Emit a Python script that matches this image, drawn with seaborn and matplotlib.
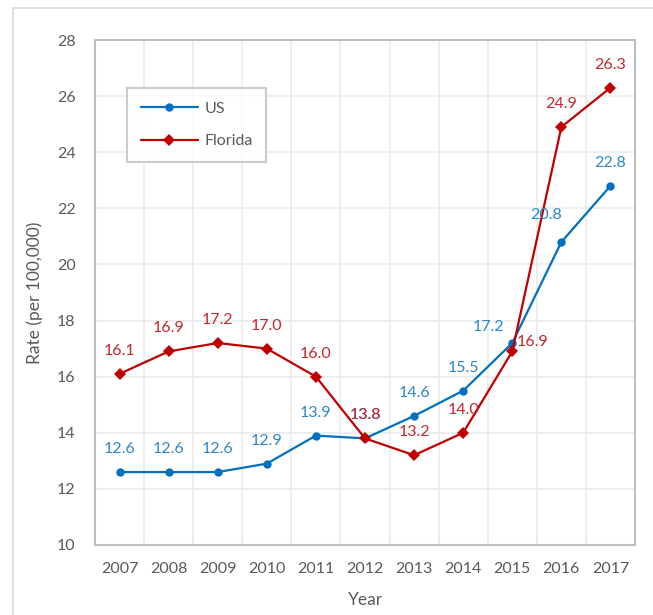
import matplotlib
matplotlib.use("Agg")
import matplotlib.pyplot as plt
import matplotlib.patches as mpatches
import seaborn as sns
import pandas as pd

years = [2007, 2008, 2009, 2010, 2011, 2012, 2013, 2014, 2015, 2016, 2017]
us_rate = [12.6, 12.6, 12.6, 12.9, 13.9, 13.8, 14.6, 15.5, 17.2, 20.8, 22.8]
fl_rate = [16.1, 16.9, 17.2, 17.0, 16.0, 13.8, 13.2, 14.0, 16.9, 24.9, 26.3]

df = pd.DataFrame({
    "Year": years * 2,
    "Rate": us_rate + fl_rate,
    "Area": ["US"] * len(years) + ["Florida"] * len(years),
})

sns.set_style("white")
plt.rcParams["font.family"] = ["Lato", "DejaVu Sans"]

text_gray = "#595959"
us_col = "#0070C0"
fl_col = "#C00000"

fig = plt.figure(figsize=(6.53, 6.15), dpi=100)
ax = fig.add_axes([95 / 653, 70 / 615, 540 / 653, 505 / 615])

# outer chart frame
fig.patches.append(mpatches.Rectangle((13 / 653, -0.1), 1.2, (607 / 615) + 0.1,
                                      transform=fig.transFigure, fill=False,
                                      edgecolor="#D9D9D9", lw=1.2))

sns.lineplot(data=df, x="Year", y="Rate", hue="Area", style="Area",
             palette={"US": us_col, "Florida": fl_col},
             markers={"US": "o", "Florida": "D"}, dashes=False,
             markersize=6, linewidth=1.6, markeredgewidth=0, ax=ax)

# data labels (offsets in pixels)
us_off = {2015: (-24, 16), 2016: (-15, 27)}
fl_off = {2015: (4, 9)}
for y, v in zip(years, us_rate):
    dx, dy = us_off.get(y, (0, 23))
    ax.annotate(f"{v:.1f}", (y, v), xytext=(dx, dy), textcoords="offset pixels",
                ha="center", va="center", color="#2E86C9", fontsize=11.5)
for y, v in zip(years, fl_rate):
    dx, dy = fl_off.get(y, (0, 23))
    ha = "left" if y == 2015 else "center"
    ax.annotate(f"{v:.1f}", (y, v), xytext=(dx, dy), textcoords="offset pixels",
                ha=ha, va="center", color="#C0282D", fontsize=11.5)

ax.set_xlim(2006.5, 2017.5)
ax.set_ylim(10, 28)
ax.set_xticks(years)
ax.set_xticks([y + 0.5 for y in years[:-1]], minor=True)
ax.set_yticks(range(10, 29, 2))
ax.grid(True, axis="y", which="major", color="#EBEBEB", lw=1.2)
ax.grid(True, axis="x", which="minor", color="#EBEBEB", lw=1.2)
ax.set_axisbelow(True)
for s in ax.spines.values():
    s.set_color("#BFBFBF")
    s.set_linewidth(1.5)
ax.tick_params(which="both", length=0, colors=text_gray, labelsize=11.5)
ax.tick_params(axis="x", pad=12)
ax.tick_params(axis="y", pad=14)
ax.set_xlabel("Year", color=text_gray, fontsize=12.5, labelpad=12)
ax.set_ylabel("Rate (per 100,000)", color=text_gray, fontsize=12.5, labelpad=10)

leg = ax.legend(title=None, loc="upper left", bbox_to_anchor=(32 / 540, 457 / 505),
                borderaxespad=0, frameon=True, fancybox=False, fontsize=11.5,
                labelspacing=1.15, borderpad=0.85, handlelength=3.6,
                handletextpad=0.4, labelcolor=text_gray)
leg.get_frame().set_edgecolor("#BFBFBF")
leg.get_frame().set_linewidth(1.5)
for h in leg.legend_handles:
    h.set_markersize(6)

fig.savefig("out.png", dpi=100)
